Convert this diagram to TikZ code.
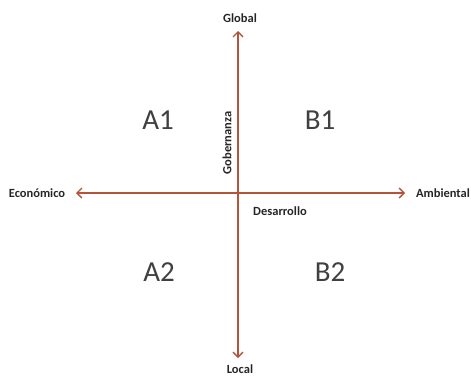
\documentclass[tikz,border=0pt]{standalone}
\usepackage{fontspec}
\setmainfont{Carlito}
\usepackage{tikz}
\usetikzlibrary{arrows.meta, positioning}

\definecolor{axisred}{HTML}{B5533A}

\begin{document}
\begin{tikzpicture}[x=1pt, y=-1pt, axis/.style={{Straight Barb[length=5pt,width=10pt]}-{Straight Barb[length=5pt,width=10pt]}, draw=axisred, line width=1.3pt}, pole/.style={font=\fontsize{12.5}{14}\selectfont\bfseries, text=black!85}, quad/.style={font=\fontsize{29}{32}\selectfont, text=black!75}]
\useasboundingbox (0,0) rectangle (471,375);
\coordinate (top) at (238,31);
\coordinate (bottom) at (238,358);
\coordinate (left) at (76,193);
\coordinate (right) at (405,193);
\draw [axis] (top) -- (bottom);
\draw [axis] (left) -- (right);
\node [pole] (global) at (240,18) {Global};
\node [pole] (local) at (240,369) {Local};
\node [pole] (econ) at (37,193) {Económico};
\node [pole] (amb) at (443,193) {Ambiental};
\node [pole, rotate=90] (gob) at (227,143) {Gobernanza};
\node [pole] (des) at (280,211) {Desarrollo};
\node [quad] (A1) at (158,120) {A1};
\node [quad] (B1) at (320,120) {B1};
\node [quad] (A2) at (159,272) {A2};
\node [quad] (B2) at (330,272) {B2};
\end{tikzpicture}
\end{document}
